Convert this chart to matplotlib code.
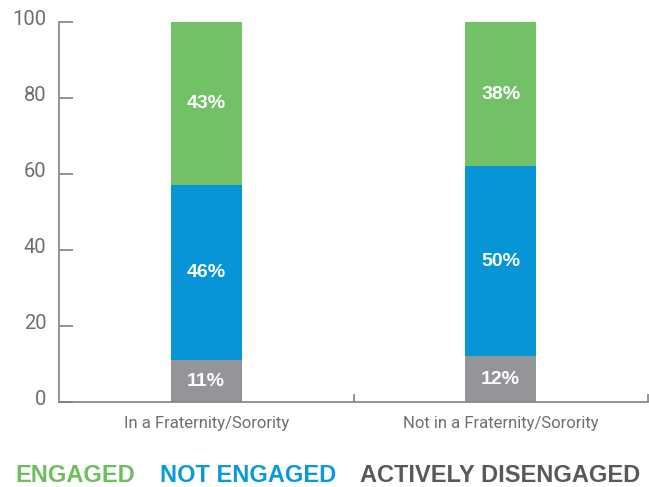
import matplotlib.pyplot as plt
import matplotlib.transforms as mtrans
import numpy as np

# data
groups = ['In a Fraternity/Sorority', 'Not in a Fraternity/Sorority']
disengaged = [11, 12]
not_engaged = [46, 50]
engaged = [43, 38]
yticks = [0, 20, 40, 60, 80, 100]
legend_labels = ['ENGAGED', 'NOT ENGAGED', 'ACTIVELY DISENGAGED']

c_green = '#72c167'
c_blue = '#0795d8'
c_gray = '#939598'
c_text = '#6d6e71'
leg_colors = ['#6dbe5f', '#0a9ad8', '#58595b']

plt.rcParams['font.family'] = ['Liberation Sans', 'DejaVu Sans']

fig = plt.figure(figsize=(6.49, 4.87), dpi=100)
ax = fig.add_axes([59 / 649, 85 / 487, 589 / 649, 380 / 487])

x = np.arange(len(groups))
w = 0.24
segs = [(disengaged, c_gray), (not_engaged, c_blue), (engaged, c_green)]
bottom = np.zeros(len(groups))
for vals, col in segs:
    vals = np.array(vals, dtype=float)
    ax.bar(x, vals, w, bottom=bottom, color=col, linewidth=0)
    for xi, b, v in zip(x, bottom, vals):
        ax.text(xi, b + v / 2, f'{int(v)}%', ha='center', va='center',
                color='white', fontsize=14, fontweight='bold')
    bottom += vals

ax.set_xlim(-0.5, 1.5)
ax.set_ylim(0, 100)
ax.set_yticks(yticks)
ax.set_xticks(x)
ax.set_xticklabels(groups)
ax.set_xticks([0.5, 1.5], minor=True)

for s in ['top', 'right']:
    ax.spines[s].set_visible(False)
for s in ['left', 'bottom']:
    ax.spines[s].set_color('#808285')
    ax.spines[s].set_linewidth(1.2)

ax.tick_params(axis='y', direction='in', length=10, width=1.2, color='#808285',
               labelsize=14.5, labelcolor=c_text, pad=9)
ax.tick_params(axis='x', which='major', length=0, labelsize=12,
               labelcolor=c_text, pad=10)
ax.tick_params(axis='x', which='minor', direction='in', length=6, width=1.2,
               color='#808285')

# plainer face for the axis text
shift = mtrans.ScaledTranslation(0, 3 / 72, fig.dpi_scale_trans)
for lab in ax.get_yticklabels():
    lab.set_family(['Roboto', 'DejaVu Sans'])
    lab.set_transform(lab.get_transform() + shift)
for lab in ax.get_xticklabels():
    lab.set_family(['Roboto', 'DejaVu Sans'])

# legend as coloured words
xs = [15, 160, 360]
for xp, lab, col in zip(xs, legend_labels, leg_colors):
    fig.text(xp / 649, 1 - 476 / 487, lab, color=col, fontsize=17,
             fontweight='bold', va='center', ha='left')

fig.savefig('out.png', dpi=100)
